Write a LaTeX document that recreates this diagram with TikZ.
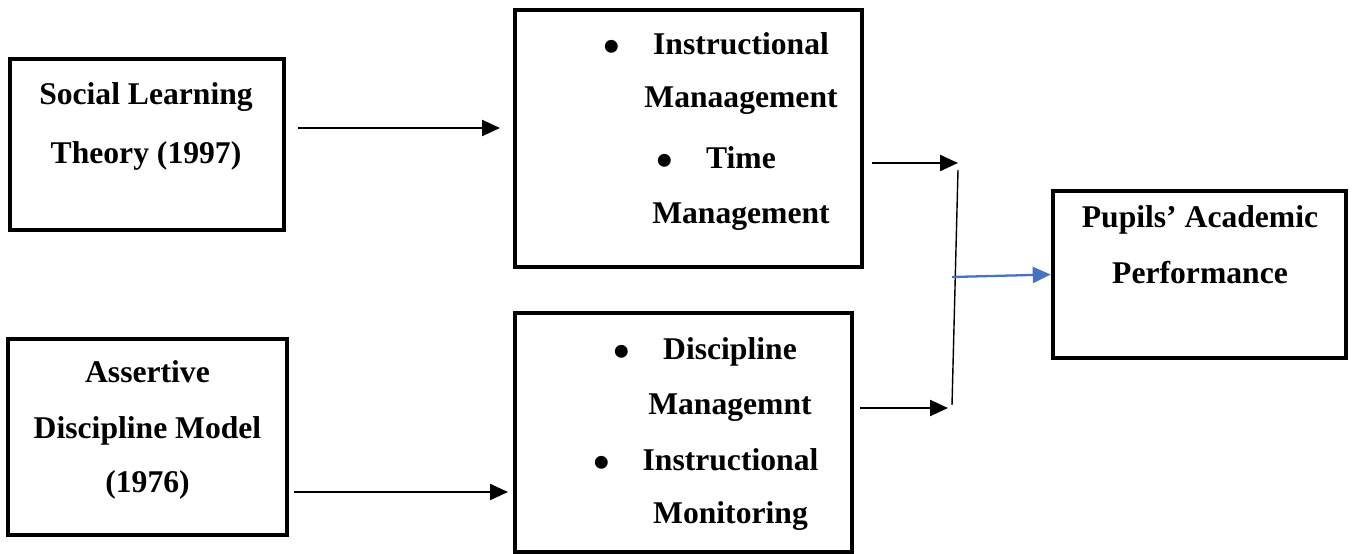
\documentclass[tikz,border=0pt]{standalone}
\usepackage{fontspec}
\setmainfont{Liberation Serif}
\usetikzlibrary{arrows.meta,fit}

\definecolor{linkblue}{RGB}{68,114,196}

\tikzset{
  frame/.style={draw, line width=2.6pt, inner sep=0pt},
  txt/.style={font=\fontsize{18}{22}\selectfont\bfseries, anchor=base, inner sep=0pt},
  dot/.style={txt, scale=1.5},
  conn/.style={-{Triangle[length=0.36cm,width=0.32cm]}, line width=1.3pt},
}

\begin{document}
\begin{tikzpicture}[x=0.02cm, y=-0.02cm]
    % Page frame, in pixels of the original
    \useasboundingbox (0,0) rectangle (1355,554);

    % Theory boxes on the left
    \node[frame, fit={(10,59) (284,230)}] (slt) {};
    \node[frame, fit={(8,339) (287,535)}] (adm) {};

    % Practice boxes in the middle
    \node[frame, fit={(515,10) (862,267)}] (itm) {};
    \node[frame, fit={(515,313) (852,552)}] (dsm) {};

    % Outcome box on the right
    \node[frame, fit={(1053,191) (1346,358)}] (pap) {};

    % Texts of the theory boxes
    \node[txt] (slt1) at (146,105) {Social Learning};
    \node[txt] (slt2) at (146,163) {Theory (1997)};
    \node[txt] (adm1) at (147.5,382) {Assertive};
    \node[txt] (adm2) at (147.5,438) {Discipline Model};
    \node[txt] (adm3) at (147.5,492) {(1976)};

    % Texts of the practice boxes
    \node[dot] (itmb1) at (612,63) {\textbullet};
    \node[txt] (itm1) at (741,55) {Instructional};
    \node[txt] (itm2) at (741,108) {Manaagement};
    \node[dot] (itmb2) at (665,176) {\textbullet};
    \node[txt] (itm3) at (741,168) {Time};
    \node[txt] (itm4) at (741,223) {Management};

    \node[dot] (dsmb1) at (622,367) {\textbullet};
    \node[txt] (dsm1) at (730,359) {Discipline};
    \node[txt] (dsm2) at (730,414) {Managemnt};
    \node[dot] (dsmb2) at (602,478) {\textbullet};
    \node[txt] (dsm3) at (730.5,470) {Instructional};
    \node[txt] (dsm4) at (730.5,523) {Monitoring};

    % Text of the outcome box
    \node[txt] (pap1) at (1200,227) {Pupils’ Academic};
    \node[txt] (pap2) at (1200,283) {Performance};

    % Theories into practices
    \coordinate (in1) at (500,128);
    \coordinate (in2) at (508,492);
    \draw[conn, shorten <=0.24cm] (slt.east |- in1) -- (in1);
    \draw[conn, shorten <=0.1cm] (adm.east |- in2) -- (in2);

    % Practices joined, then into the outcome
    \coordinate (jtop) at (958,163);
    \coordinate (jbot) at (948,408);
    \coordinate (jup) at (958,170);
    \coordinate (jlow) at (952,405);
    \coordinate (jmid) at (952,277);
    \draw[conn, shorten <=0.16cm] (itm.east |- jtop) -- (jtop);
    \draw[conn, shorten <=0.12cm] (dsm.east |- jbot) -- (jbot);
    \draw[line width=0.8pt] (jup) -- (jlow);
    \draw[conn, linkblue] (jmid) -- (pap.west);

\end{tikzpicture}
\end{document}
